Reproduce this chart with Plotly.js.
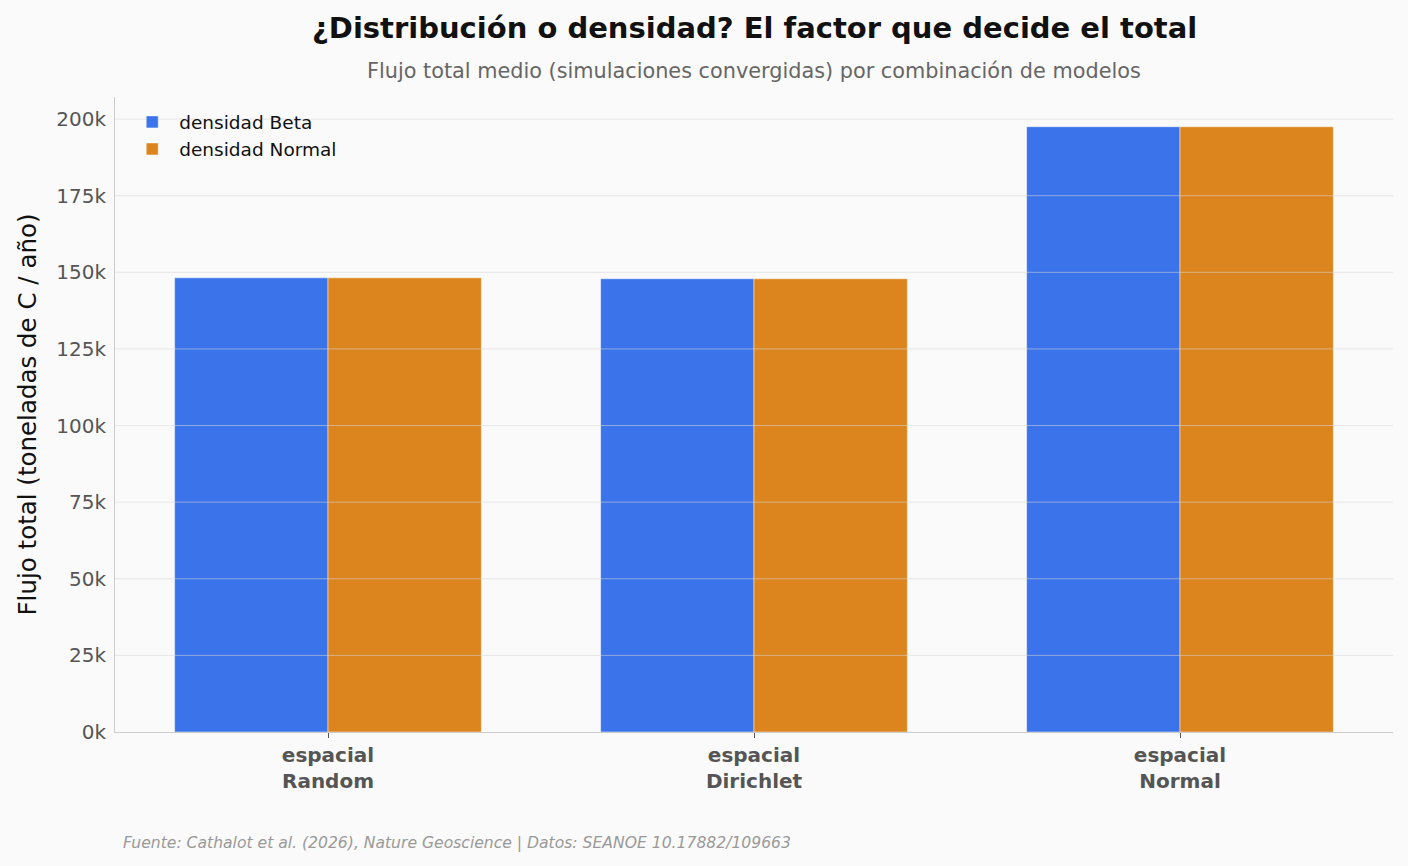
<!DOCTYPE html>
<html>
<head>
<meta charset="utf-8">
<script src="https://cdn.plot.ly/plotly-3.0.1.min.js"></script>
<style>
html,body{margin:0;padding:0;background:#fafafa;}
#chart{width:1408px;height:866px;}
</style>
</head>
<body>
<div id="chart"></div>
<script>
const categories = ["espacial<br>Random", "espacial<br>Dirichlet", "espacial<br>Normal"];
const seriesNames = ["densidad Beta", "densidad Normal"];
const betaValues = [148200, 147900, 197500];
const normalValues = [148200, 147900, 197500];
const yTickVals = [0, 25000, 50000, 75000, 100000, 125000, 150000, 175000, 200000];
const yTickText = ["0k", "25k", "50k", "75k", "100k", "125k", "150k", "175k", "200k"];

const font = "DejaVu Sans, sans-serif";

const traces = [
  {type: "bar", name: seriesNames[0], x: categories, y: betaValues,
   marker: {color: "#3b73ea", line: {color: "rgba(255,255,255,0.6)", width: 0.8}}, hoverinfo: "y"},
  {type: "bar", name: seriesNames[1], x: categories, y: normalValues,
   marker: {color: "#dc851f", line: {color: "rgba(255,255,255,0.6)", width: 0.8}}, hoverinfo: "y"}
];

const gridShapes = yTickVals.slice(1).map(v => ({
  type: "line", xref: "paper", yref: "y", x0: 0, x1: 1, y0: v, y1: v,
  line: {color: "rgba(215,215,215,0.55)", width: 1}, layer: "above"
}));

const layout = {
  width: 1408, height: 866,
  paper_bgcolor: "#fafafa", plot_bgcolor: "#fafafa",
  font: {family: font, color: "#555"},
  margin: {l: 115, r: 15, t: 97, b: 134},
  barmode: "group", bargap: 0.28, bargroupgap: 0,
  showlegend: true,
  legend: {x: 0.008, y: 0.99, xanchor: "left", yanchor: "top", bgcolor: "rgba(0,0,0,0)",
           font: {family: font, size: 18.5, color: "#111"}, itemwidth: 44, tracegroupgap: 0},
  xaxis: {
    type: "category", range: [-0.5, 2.5],
    showline: true, linecolor: "#cccccc", linewidth: 1, mirror: false,
    ticks: "outside", ticklen: 5, tickcolor: "#555", tickwidth: 1,
    tickfont: {family: "DejaVu Sans, sans-serif", size: 20, color: "#555", weight: "bold"},
    showgrid: false, zeroline: false
  },
  yaxis: {
    range: [0, 207200],
    tickvals: yTickVals, ticktext: yTickText,
    tickfont: {family: font, size: 20, color: "#555"},
    ticks: "", ticklabelstandoff: 4,
    showline: true, linecolor: "#cccccc", linewidth: 1,
    showgrid: false, zeroline: false,
    title: {text: "Flujo total (toneladas de C / año)", font: {family: font, size: 24.5, color: "#111"}, standoff: 12}
  },
  shapes: gridShapes,
  annotations: [
    {text: "<b>¿Distribución o densidad? El factor que decide el total</b>", xref: "paper", yref: "paper",
     x: 0.5, y: 1, yshift: 69, xanchor: "center", yanchor: "middle", showarrow: false,
     font: {family: font, size: 29, color: "#111"}},
    {text: "Flujo total medio (simulaciones convergidas) por combinación de modelos", xref: "paper", yref: "paper",
     x: 0.5, y: 1, yshift: 26, xanchor: "center", yanchor: "middle", showarrow: false,
     font: {family: font, size: 20.8, color: "#666"}},
    {text: "<i>Fuente: Cathalot et al. (2026), Nature Geoscience | Datos: SEANOE 10.17882/109663</i>", xref: "paper", yref: "paper",
     x: 0, y: 0, xshift: 6, yshift: -111, xanchor: "left", yanchor: "middle", showarrow: false,
     font: {family: font, size: 15.6, color: "#999"}}
  ]
};

Plotly.newPlot("chart", traces, layout, {displayModeBar: false, staticPlot: true});
</script>
</body>
</html>
